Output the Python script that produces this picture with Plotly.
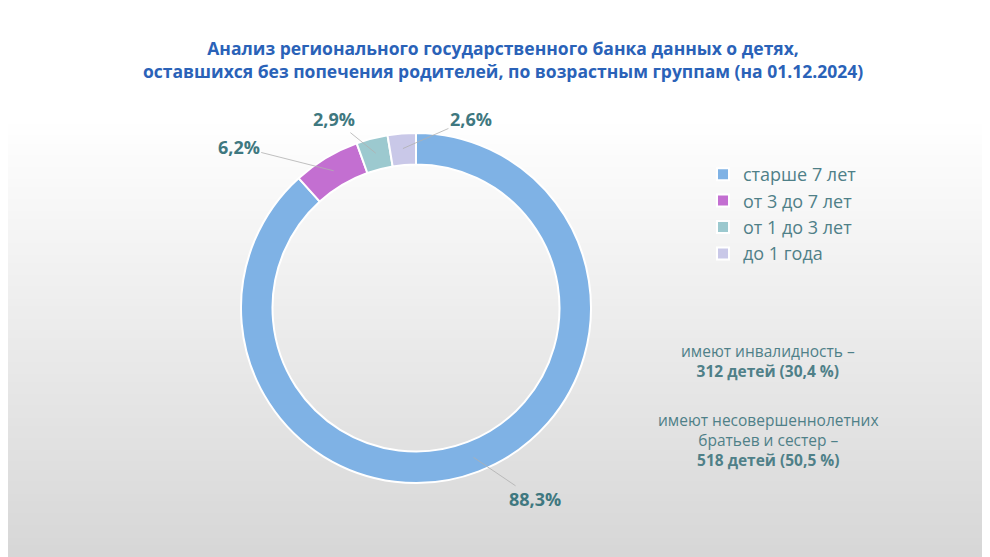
import math
import plotly.graph_objects as go

categories = ["старше 7 лет", "от 3 до 7 лет", "от 1 до 3 лет", "до 1 года"]
values = [88.3, 6.2, 2.9, 2.6]
labels_txt = ["88,3%", "6,2%", "2,9%", "2,6%"]
colors = ["#7fb2e5", "#c36fd1", "#9cc9cf", "#c9c8e8"]
label_offsets = [(62, 42), (-95, -24), (-42, -34), (68, -30)]

W, H = 990, 557
cx, cy, R = 408, 300, 175

fig = go.Figure()

# background gradient (white at top, light grey at bottom)
n = 140
for i in range(n):
    y0 = i / n
    t = min(1.0, y0 / 0.8)
    g = int(round(214 + (255 - 214) * t))
    fig.add_shape(type="rect", xref="paper", yref="paper", x0=0, x1=1,
                  y0=y0, y1=y0 + 1.5 / n, line_width=0,
                  fillcolor=f"rgb({g},{g},{g})", layer="below")

fig.add_trace(go.Pie(
    labels=categories, values=values, hole=0.82, sort=False,
    direction="clockwise", rotation=0, textinfo="none",
    marker=dict(colors=colors, line=dict(color="white", width=2)),
    domain=dict(x=[(cx - R) / W, (cx + R) / W], y=[1 - (cy + R) / H, 1 - (cy - R) / H]),
    hoverinfo="label+percent",
))

total = sum(values)
cum = 0
for v, txt, (ax, ay) in zip(values, labels_txt, label_offsets):
    mid = (cum + v / 2) / total * 2 * math.pi
    cum += v
    px = cx + 160 * math.sin(mid)
    py = cy - 160 * math.cos(mid)
    fig.add_annotation(x=px / W, y=1 - py / H, xref="paper", yref="paper",
                       ax=ax, ay=ay, text=f"<b>{txt}</b>", showarrow=True,
                       arrowhead=0, arrowwidth=0.8, arrowcolor="#b0b0b0",
                       font=dict(size=18, color="#3f7880", family="Open Sans"))

fig.add_annotation(x=0.5, y=1 - 52 / H, xref="paper", yref="paper", showarrow=False,
                   xanchor="center", yanchor="middle",
                   text="<b>Анализ регионального государственного банка данных о детях,<br>оставшихся без попечения родителей, по возрастным группам (на 01.12.2024)</b>",
                   font=dict(size=17.5, color="#2a62b8", family="Open Sans"))

fig.add_annotation(x=760 / W, y=1 - 353 / H, xref="paper", yref="paper", showarrow=False,
                   xanchor="center", yanchor="middle",
                   text="имеют инвалидность –<br><b>312 детей (30,4 %)</b>",
                   font=dict(size=15.5, color="#4f8088", family="Open Sans"))
fig.add_annotation(x=760 / W, y=1 - 432 / H, xref="paper", yref="paper", showarrow=False,
                   xanchor="center", yanchor="middle",
                   text="имеют несовершеннолетних<br>братьев и сестер –<br><b>518 детей (50,5 %)</b>",
                   font=dict(size=15.5, color="#4f8088", family="Open Sans"))

fig.update_layout(
    width=W, height=H, margin=dict(l=0, r=0, t=0, b=0),
    paper_bgcolor="white", plot_bgcolor="white",
    legend=dict(x=695 / W, y=1 - 148 / H, xanchor="left", yanchor="top",
                font=dict(size=18, color="#4f8088", family="Open Sans"),
                itemwidth=30, bgcolor="rgba(0,0,0,0)"),
)
fig.write_html("out.html")
